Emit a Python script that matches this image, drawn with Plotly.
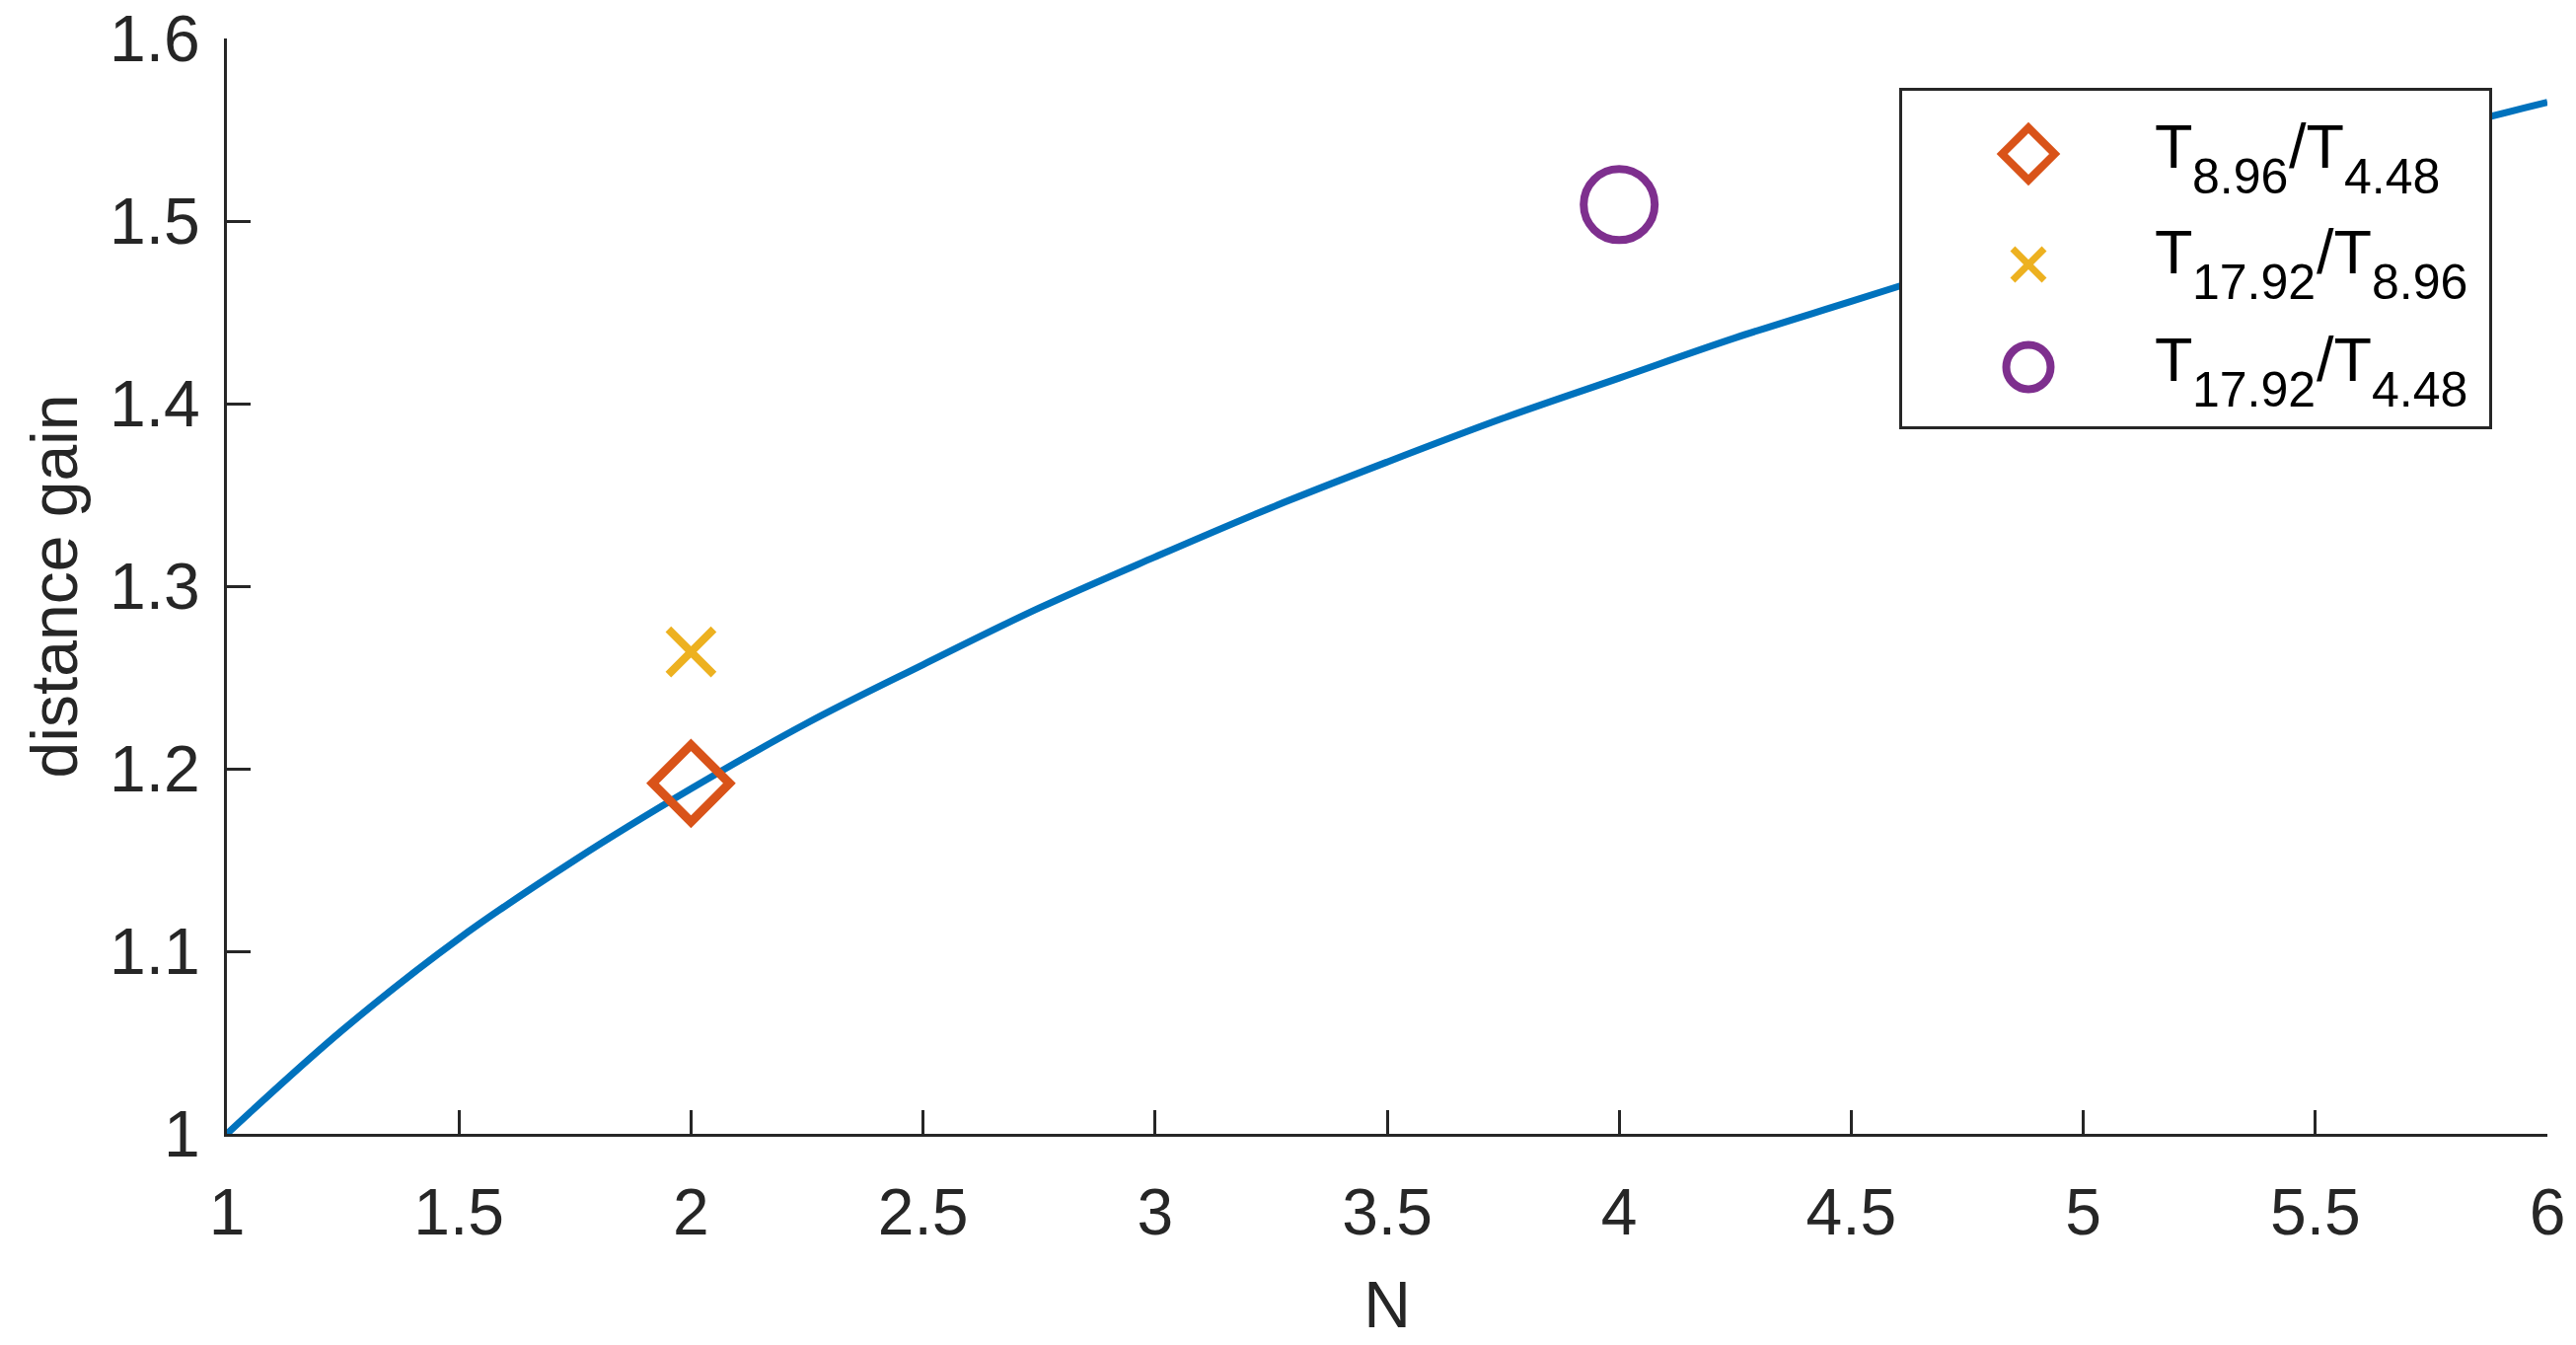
import plotly.graph_objects as go

# ---- data ----
N_curve = [1.0, 1.25, 1.5, 1.75, 2.0, 2.25, 2.5, 2.75, 3.0, 3.25, 3.5,
           3.75, 4.0, 4.25, 4.5, 4.75, 5.0, 5.25, 5.5, 5.75, 6.0]
gain_curve = [1.000, 1.057, 1.107, 1.150, 1.189, 1.225, 1.257, 1.288, 1.316,
              1.343, 1.368, 1.392, 1.414, 1.436, 1.456, 1.476, 1.495, 1.514,
              1.531, 1.549, 1.565]

series_num = ["8.96", "17.92", "17.92"]      # T_num / T_den
series_den = ["4.48", "8.96", "4.48"]
series_N = [2, 2, 4]
series_gain = [1.192, 1.264, 1.509]

x_ticks = [1, 1.5, 2, 2.5, 3, 3.5, 4, 4.5, 5, 5.5, 6]
x_ticklabels = ["1", "1.5", "2", "2.5", "3", "3.5", "4", "4.5", "5", "5.5", "6"]
y_ticks = [1.0, 1.1, 1.2, 1.3, 1.4, 1.5, 1.6]
y_ticklabels = ["1", "1.1", "1.2", "1.3", "1.4", "1.5", "1.6"]

# ---- styles / layout constants ----
FONT = "Liberation Sans, Arial, sans-serif"
AX = "#262626"
colors = ["#D95319", "#EDB120", "#7E2F8E"]
symbols = ["diamond-open", "x-thin-open", "circle-open"]
plot_sizes = [60, 46, 72]
plot_lw = [9, 8, 8]
legend_sizes = [41, 32, 45]
legend_lw = [8, 7, 8]

W, H = 2611, 1363
L, R, T, B = 230, 29, 39, 214
PW, PH = W - L - R, H - T - B


def paper_x(px):
    return (px - L) / PW


def paper_y(py):
    return (H - B - py) / PH


# legend box (pixel layout)
BOX_L, BOX_R, BOX_T, BOX_B = 1928, 2523, 92, 432
glyph_px = 2056
glyph_rows_px = [156, 268, 372]
text_rows_px = [147.5, 255, 364]
text_left_px = 2183
MAIN_FS, SUB_FS = 63, 50
SUB_DY = 31
CHAR_W = {"T": 0.611, ".": 0.278, "/": 0.278}


def text_w(s, fs):
    return sum(CHAR_W.get(c, 0.556) for c in s) * fs


fig = go.Figure()
fig.add_trace(go.Scatter(x=N_curve, y=gain_curve, mode="lines",
                         line=dict(color="#0072BD", width=7, shape="spline"),
                         showlegend=False, hoverinfo="skip"))

for i in range(3):
    fig.add_trace(go.Scatter(x=[series_N[i]], y=[series_gain[i]], mode="markers",
                             marker=dict(symbol=symbols[i], size=plot_sizes[i],
                                         color=colors[i],
                                         line=dict(color=colors[i], width=plot_lw[i])),
                             name="T%s/T%s" % (series_num[i], series_den[i]),
                             showlegend=False))

# ---- custom legend: an opaque inset subplot with glyphs ----
bw, bh = BOX_R - BOX_L, BOX_B - BOX_T
for i in range(3):
    fig.add_trace(go.Scatter(x=[(glyph_px - BOX_L) / bw],
                             y=[(BOX_B - glyph_rows_px[i]) / bh],
                             mode="markers", xaxis="x2", yaxis="y2",
                             marker=dict(symbol=symbols[i], size=legend_sizes[i],
                                         color=colors[i],
                                         line=dict(color=colors[i], width=legend_lw[i])),
                             showlegend=False, hoverinfo="skip", cliponaxis=False))
    pieces = [("T", False), (series_num[i], True), ("/T", False), (series_den[i], True)]
    xpos = text_left_px
    for txt, is_sub in pieces:
        fs = SUB_FS if is_sub else MAIN_FS
        ypx = text_rows_px[i] + (SUB_DY if is_sub else 0)
        fig.add_annotation(x=paper_x(xpos), y=paper_y(ypx), xref="paper", yref="paper",
                           text=txt, showarrow=False, xanchor="left", yanchor="middle",
                           borderpad=0,
                           font=dict(family=FONT, size=fs, color="#000000"))
        xpos += text_w(txt, fs)

fig.update_layout(
    width=W, height=H,
    margin=dict(l=L, r=R, t=T, b=B, autoexpand=False),
    paper_bgcolor="white", plot_bgcolor="rgb(255,255,255)",
    font=dict(family=FONT, size=66, color=AX),
    xaxis=dict(range=[1, 6], tickvals=x_ticks, ticktext=x_ticklabels,
               automargin=False,
               showgrid=False, zeroline=False, showline=True,
               linecolor=AX, linewidth=3, ticks="inside", ticklen=24,
               tickwidth=3, tickcolor=AX, ticklabelstandoff=20,
               tickfont=dict(family=FONT, size=66, color=AX),
               title=dict(text="N", standoff=35,
                          font=dict(family=FONT, size=66, color=AX))),
    yaxis=dict(range=[1, 1.6], tickvals=y_ticks, ticktext=y_ticklabels,
               automargin=False,
               showgrid=False, zeroline=False, showline=True,
               linecolor=AX, linewidth=3, ticks="inside", ticklen=24,
               tickwidth=3, tickcolor=AX, ticklabelstandoff=11,
               tickfont=dict(family=FONT, size=66, color=AX),
               title=dict(text="distance gain", standoff=11,
                          font=dict(family=FONT, size=66, color=AX))),
    xaxis2=dict(domain=[paper_x(BOX_L), paper_x(BOX_R)], range=[0, 1],
                anchor="y2", showline=True, mirror=True, linecolor=AX, linewidth=3,
                showgrid=False, zeroline=False, showticklabels=False, ticks="",
                fixedrange=True, automargin=False),
    yaxis2=dict(domain=[paper_y(BOX_B), paper_y(BOX_T)], range=[0, 1],
                anchor="x2", showline=True, mirror=True, linecolor=AX, linewidth=3,
                showgrid=False, zeroline=False, showticklabels=False, ticks="",
                fixedrange=True, automargin=False),
    showlegend=False,
)

fig.write_html(
    "out.html",
    config={"displayModeBar": False},
    post_script=("document.body.style.margin='0px';"
                 "document.body.style.overflow='hidden';"
                 "document.documentElement.style.overflow='hidden';"),
)
